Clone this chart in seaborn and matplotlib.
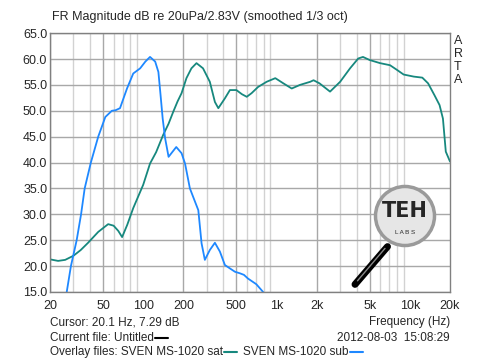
import numpy as np
import pandas as pd
import matplotlib
matplotlib.use("Agg")
import matplotlib.pyplot as plt
import seaborn as sns
from matplotlib.patches import Ellipse

# values (Hz, dB)
sat_freq = [20, 23, 26, 30, 34, 38.6, 46, 54.6, 60, 65, 69.5, 76, 84.2, 100, 112.5, 125, 141, 155, 168,
            181, 194, 211, 230, 251, 281, 316, 345, 366, 410, 447, 500, 550, 598, 650, 727, 843, 979,
            1125, 1300, 1500, 1790, 1895, 2100, 2520, 3000, 3560, 4100, 4450, 5000, 5980,
            7100, 8000, 8980, 10700, 12400, 13700, 15300, 16700, 17700, 18600, 20000]
sat_db = [21.3, 21.0, 21.2, 22.0, 23.1, 24.5, 26.6, 28.1, 27.8, 26.8, 25.6, 28.0, 31.2, 35.7, 39.8, 42.0, 45.3, 47.5, 49.8,
          51.8, 53.4, 56.3, 58.2, 59.2, 58.2, 55.6, 51.7, 50.5, 52.4, 54.0, 54.0, 53.2, 52.7, 53.4, 54.6, 55.6, 56.3,
          55.3, 54.3, 55.0, 55.6, 55.9, 55.3, 53.7, 55.6, 58.2, 60.1, 60.4, 59.8, 59.2,
          58.8, 57.9, 57.0, 56.6, 56.4, 55.3, 53.0, 51.1, 48.5, 42.1, 40.2]

sub_freq = [26.7, 28.7, 31.7, 34.2, 36.4, 40.5, 46, 52, 58.2, 62, 67, 75.6, 84.2, 94.9, 103.8, 112.5,
            123, 130, 135, 140, 146, 155, 165, 177, 194, 206, 224, 240, 259, 274, 290, 316,
            345, 376, 410, 450, 488, 532, 570, 610, 705, 793]
sub_db = [15.0, 20.0, 25.0, 30.0, 35.0, 40.0, 45.0, 48.8, 50.0, 50.1, 50.5, 54.3, 57.2, 58.2, 59.5, 60.4,
          59.5, 57.5, 53.0, 48.5, 44.7, 41.1, 42.0, 43.0, 41.8, 39.8, 35.0, 33.0, 30.8, 24.4, 21.2, 23.1,
          24.5, 22.8, 20.2, 19.5, 18.9, 18.6, 18.3, 17.6, 16.5, 15.0]

x_ticks = [20, 50, 100, 200, 500, 1000, 2000, 5000, 10000, 20000]
x_labels = ["20", "50", "100", "200", "500", "1k", "2k", "5k", "10k", "20k"]
y_ticks = [15, 20, 25, 30, 35, 40, 45, 50, 55, 60, 65]

teal = "#17887e"
blue = "#1e88ff"

sns.set_style("white")
plt.rcParams["font.family"] = ["Liberation Sans", "DejaVu Sans"]

df = pd.concat([
    pd.DataFrame({"freq": sat_freq, "db": sat_db, "file": "sat"}),
    pd.DataFrame({"freq": sub_freq, "db": sub_db, "file": "sub"}),
])

fig = plt.figure(figsize=(5, 3.6), dpi=100)
ax = fig.add_axes([0.1, 0.189, 0.8, 0.719])
ax.set_xscale("log")

# grid
minor = [f * d for d in [10, 100, 1000] for f in range(2, 10)]
for f in minor:
    if 20 <= f <= 20000:
        col = "#a8a8a8" if f in x_ticks else "#d2d2d2"
        ax.axvline(f, color=col, lw=1, zorder=0)
for y in y_ticks:
    ax.axhline(y, color="#a8a8a8", lw=1, zorder=0)

sns.lineplot(data=df, x="freq", y="db", hue="file", palette={"sat": teal, "sub": blue},
             sort=False, estimator=None, lw=1.3, legend=False, ax=ax)

ax.set_xlim(20, 20000)
ax.set_ylim(15, 65)
ax.set_xticks(x_ticks)
ax.set_xticklabels(x_labels)
ax.xaxis.set_minor_locator(matplotlib.ticker.NullLocator())
ax.set_yticks(y_ticks)
ax.set_yticklabels([f"{v:.1f}" for v in y_ticks])
ax.tick_params(length=0, labelsize=9, pad=2)
ax.tick_params(axis="x", pad=6)
ax.set_xlabel("")
ax.set_ylabel("")
for s in ax.spines.values():
    s.set_color("#808080")
    s.set_linewidth(1)

fig.text(0.104, 0.935, "FR Magnitude dB re 20uPa/2.83V (smoothed 1/3 oct)", fontsize=9, ha="left", va="bottom")
for i, ch in enumerate("ARTA"):
    fig.text(0.908, 0.885 - i * 0.036, ch, fontsize=9, ha="left", va="center")

fig.text(0.1, 0.105, "Cursor: 20.1 Hz, 7.29 dB", fontsize=8.5, ha="left", va="center")
fig.text(0.9, 0.105, "Frequency (Hz)", fontsize=8.5, ha="right", va="center")
t0 = fig.text(0.1, 0.06, "Current file: Untitled", fontsize=8.5, ha="left", va="center")
fig.text(0.9, 0.06, "2012-08-03  15:08:29", fontsize=8.5, ha="right", va="center")
t1 = fig.text(0.1, 0.022, "Overlay files: SVEN MS-1020 sat", fontsize=8.5, ha="left", va="center")
fig.canvas.draw()
r = fig.canvas.get_renderer()
inv = fig.transFigure.inverted()
bb0 = t0.get_window_extent(r).transformed(inv)
fig.add_artist(plt.Line2D([bb0.x1 + 0.002, bb0.x1 + 0.028], [0.06, 0.06], color="black", lw=1.5))
bb = t1.get_window_extent(r).transformed(inv)
fig.add_artist(plt.Line2D([bb.x1 + 0.002, bb.x1 + 0.028], [0.022, 0.022], color=teal, lw=1.5))
t2 = fig.text(bb.x1 + 0.04, 0.022, "SVEN MS-1020 sub", fontsize=8.5, ha="left", va="center")
bb2 = t2.get_window_extent(r).transformed(inv)
fig.add_artist(plt.Line2D([bb2.x1 + 0.002, bb2.x1 + 0.028], [0.022, 0.022], color=blue, lw=1.5))

# magnifier logo
lx, ly = 0.81, 0.40
fig.add_artist(plt.Line2D([0.71, 0.775], [0.21, 0.315], color="black", lw=5, solid_capstyle="round"))
fig.add_artist(plt.Line2D([0.715, 0.77], [0.22, 0.31], color="#888888", lw=1))
fig.add_artist(Ellipse((lx, ly), 0.118, 0.164, transform=fig.transFigure,
                       facecolor="#e6e6e6", edgecolor="#9a9a9a", lw=2.5, zorder=5))
fig.text(lx, ly + 0.015, "TEH", fontsize=15, fontweight="bold", ha="center", va="center",
         family="DejaVu Sans Condensed", zorder=6)
fig.text(lx, ly - 0.045, "L A B S", fontsize=4.5, ha="center", va="center", zorder=6)

fig.savefig("out.png", dpi=100)
